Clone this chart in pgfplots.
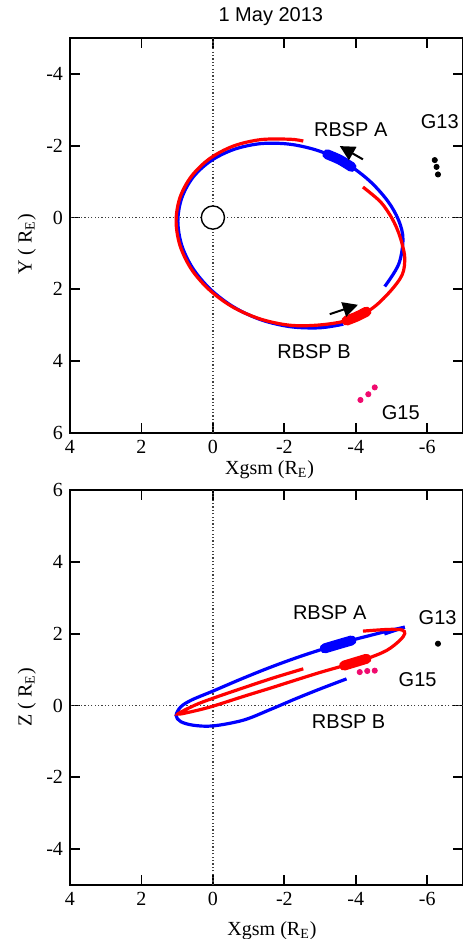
\documentclass[border=0pt]{standalone}
\usepackage{pgfplots}
\pgfplotsset{compat=1.18}
\usepackage{fontspec}
\setmainfont{Liberation Serif}
\setsansfont{Liberation Sans}
\usetikzlibrary{arrows.meta}
\definecolor{gpink}{RGB}{240,10,110}
\pgfplotsset{
  orbax/.style={
    scale only axis, width=196.5pt, height=197.5pt,
    xmin=-7, xmax=4, x dir=reverse,
    ymin=-5, ymax=6,
    xtick={4,2,0,-2,-4,-6}, xticklabels={4,2,0,-2,-4,-6},
    ytick={-4,-2,0,2,4,6}, yticklabels={-4,-2,0,2,4,6},
    tick align=inside, major tick length=5pt,
    tick style={line width=0.9pt, black},
    axis line style={line width=1pt},
    axis background/.style={fill=white},
  },
  orb/.style={line width=1.6pt, smooth, tension=0.55},
  blob/.style={line width=5pt, line cap=round, smooth},
  zero/.style={black!75, line width=0.6pt, dash pattern=on 0.6pt off 1.1pt},
}
\begin{document}
\begin{tikzpicture}
% ---------------- top panel: X-Y ----------------
\begin{axis}[orbax, y dir=reverse,
  at={(0pt,0pt)}, anchor=south west,
  title={\sffamily 1 May 2013},
  title style={at={(axis description cs:0.511,1)}, anchor=base, yshift=2pt},
  xlabel={Xgsm (R\textsubscript{E})},
  xlabel style={at={(axis description cs:0.508,0)}, anchor=base, yshift=-20.5pt},
  ylabel={Y ( R\textsubscript{E})},
  ylabel style={at={(axis description cs:-0.11,0.478)}, anchor=center},
]
\addplot[zero] coordinates {(0,-5) (0,6)};
\addplot[zero] coordinates {(-7,0) (4,0)};
\addplot[only marks, mark=*, mark size=5.8pt, mark options={fill=white, draw=black, line width=0.7pt}] coordinates {(0,0)};
% RBSP A
\addplot[blue, orb] coordinates {
(-3.65,2.97) (-2.99,3.07) (-2.17,3.04) (-1.355,2.85) (-0.595,2.5) (0.057,2.01)
(0.558,1.42) (0.873,0.77) (0.98,0.1) (0.873,-0.54) (0.558,-1.12) (0.057,-1.58)
(-0.595,-1.9) (-1.355,-2.06) (-2.17,-2.04) (-2.985,-1.85) (-3.745,-1.5) (-4.397,-1.01)
(-4.9,-0.45) (-5.2,0.08) (-5.32,0.6) (-5.2,1.3) (-4.81,1.92)};
% RBSP B
\addplot[red, orb] coordinates {
(-2.53,-2.13) (-2.17,-2.18) (-1.341,-2.17) (-0.57,-1.99) (0.092,-1.64) (0.601,-1.15)
(0.921,-0.56) (1.03,0.1) (0.921,0.78) (0.601,1.44) (0.092,2.02) (-0.57,2.5)
(-1.341,2.83) (-2.17,3.0) (-3.0,2.99) (-3.77,2.86) (-4.43,2.55) (-4.95,2.07)
(-5.3,1.59) (-5.37,1.13) (-5.3,0.75) (-5.2,0.43) (-5.08,0.15) (-4.92,-0.13)
(-4.67,-0.46) (-4.2,-0.85)};
\addplot[blue, blob] coordinates {(-3.2,-1.76) (-3.55,-1.61) (-3.88,-1.41)};
\addplot[red, blob] coordinates {(-3.74,2.87) (-4.02,2.76) (-4.3,2.62)};
\addplot[black, line width=1pt, -{Triangle[length=7.5pt,width=7.5pt]}] coordinates {(-4.2,-1.62) (-3.55,-1.99)};
\addplot[black, line width=1pt, -{Triangle[length=7.5pt,width=7.5pt]}] coordinates {(-3.27,2.69) (-4.06,2.43)};
\addplot[only marks, mark=*, mark size=1.3pt, black] coordinates {(-6.21,-1.6) (-6.26,-1.41) (-6.3,-1.2)};
\addplot[only marks, mark=*, mark size=1.3pt, gpink] coordinates {(-4.13,5.08) (-4.35,4.92) (-4.53,4.73)};
\node[font=\sffamily] at (axis cs:-3.86,-2.46) {RBSP A};
\node[font=\sffamily] at (axis cs:-6.35,-2.68) {G13};
\node[font=\sffamily] at (axis cs:-2.83,3.74) {RBSP B};
\node[font=\sffamily] at (axis cs:-5.26,5.42) {G15};
\end{axis}
% ---------------- bottom panel: X-Z ----------------
\begin{axis}[orbax,
  at={(0pt,-28.5pt)}, anchor=north west,
  xlabel={Xgsm (R\textsubscript{E})},
  xlabel style={at={(axis description cs:0.514,0)}, anchor=base, yshift=-25pt},
  ylabel={Z ( R\textsubscript{E})},
  ylabel style={at={(axis description cs:-0.11,0.475)}, anchor=center},
]
\addplot[zero] coordinates {(0,-5) (0,6)};
\addplot[zero] coordinates {(-7,0) (4,0)};
% RBSP A
\addplot[blue, orb] coordinates {
(-3.74,0.74) (-3.0,0.46) (-2.3,0.18) (-1.59,-0.12) (-0.85,-0.41) (0,-0.57)
(0.55,-0.55) (0.9,-0.45) (1.03,-0.28) (0.9,-0.04) (0.6,0.15) (0,0.4)
(-0.8,0.74) (-1.6,1.06) (-2.4,1.35) (-3.2,1.61) (-3.9,1.82) (-4.6,2.0)
(-5.0,2.1) (-5.37,2.18)};
\addplot[blue, line width=1.6pt] coordinates {(-5.37,2.18) (-4.8,1.99)};
% RBSP B
\addplot[red, orb] coordinates {
(-2.53,1.02) (-1.7,0.77) (-0.85,0.49) (0,0.2) (0.5,0.01) (0.98,-0.24)
(0.5,-0.15) (0,-0.02) (-0.85,0.25) (-1.6,0.48) (-2.2,0.67) (-3.0,0.92)
(-3.67,1.11) (-4.3,1.3) (-4.86,1.53) (-5.23,1.81) (-5.37,2.0) (-5.3,2.1)
(-5.0,2.12) (-4.6,2.1) (-4.2,2.07)};
\addplot[blue, blob] coordinates {(-3.13,1.59) (-3.5,1.7) (-3.88,1.81)};
\addplot[red, blob] coordinates {(-3.67,1.11) (-4.0,1.21) (-4.3,1.3)};
\addplot[only marks, mark=*, mark size=1.3pt, black] coordinates {(-6.3,1.72)};
\addplot[only marks, mark=*, mark size=1.3pt, gpink] coordinates {(-4.11,0.93) (-4.32,0.96) (-4.53,0.97)};
\node[font=\sffamily] at (axis cs:-3.27,2.59) {RBSP A};
\node[font=\sffamily] at (axis cs:-6.29,2.45) {G13};
\node[font=\sffamily] at (axis cs:-5.73,0.72) {G15};
\node[font=\sffamily] at (axis cs:-3.8,-0.45) {RBSP B};
\end{axis}
\pgfresetboundingbox
\useasboundingbox (-35pt,-253pt) rectangle (196.3pt,216.5pt);
\end{tikzpicture}
\end{document}
